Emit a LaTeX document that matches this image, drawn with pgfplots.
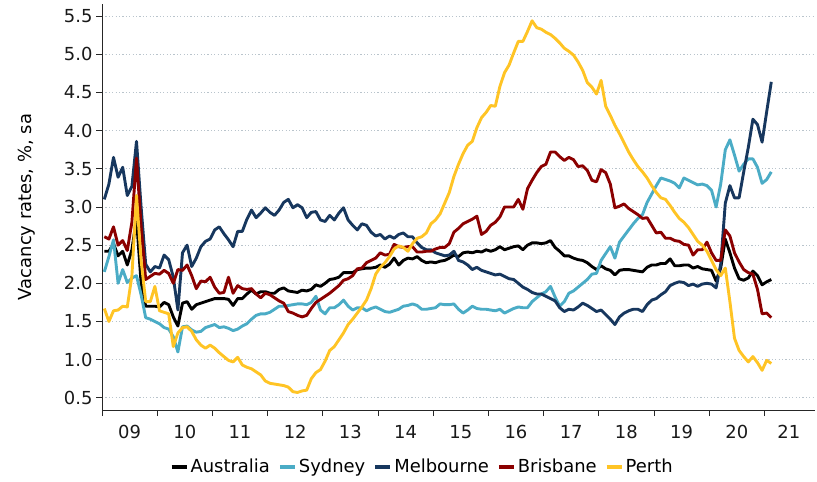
\documentclass[border=0pt]{standalone}
\usepackage{pgfplots}
\pgfplotsset{compat=1.18}
\usepackage{pgfplotstable}
\usepackage{fontspec}
\setmainfont{DejaVu Sans}
\definecolor{cAus}{RGB}{0,0,0}
\definecolor{cSyd}{RGB}{75,172,198}
\definecolor{cMel}{RGB}{23,55,94}
\definecolor{cBri}{RGB}{139,0,0}
\definecolor{cPer}{RGB}{255,196,37}
\definecolor{cGrid}{RGB}{185,196,204}
\pgfplotstableread{
m aus syd mel bri per
0 2.42 2.15 3.10 2.61 1.67
1 2.42 2.35 3.30 2.58 1.50
2 2.52 2.57 3.65 2.74 1.64
3 2.36 2.00 3.39 2.50 1.65
4 2.42 2.18 3.52 2.56 1.70
5 2.24 2.01 3.15 2.43 1.69
6 2.44 2.07 3.27 2.80 2.10
7 2.85 2.10 3.86 3.64 3.15
8 2.00 1.85 3.00 2.75 2.30
9 1.70 1.55 2.25 2.05 1.76
10 1.70 1.53 2.15 2.09 1.76
11 1.70 1.50 2.22 2.13 1.96
12 1.69 1.47 2.20 2.12 1.64
13 1.75 1.42 2.37 2.17 1.62
14 1.72 1.40 2.31 2.13 1.60
15 1.56 1.30 2.08 2.00 1.17
16 1.44 1.10 1.65 2.18 1.35
17 1.74 1.43 2.40 2.17 1.42
18 1.76 1.44 2.50 2.24 1.43
19 1.66 1.39 2.22 2.10 1.37
20 1.72 1.36 2.33 1.93 1.26
21 1.74 1.37 2.48 2.03 1.19
22 1.76 1.42 2.55 2.02 1.15
23 1.78 1.44 2.58 2.08 1.19
24 1.80 1.46 2.70 1.95 1.15
25 1.80 1.42 2.74 1.87 1.09
26 1.80 1.43 2.65 1.88 1.04
27 1.79 1.41 2.57 2.08 0.99
28 1.71 1.38 2.48 1.87 0.97
29 1.80 1.40 2.68 1.97 1.03
30 1.80 1.44 2.68 1.93 0.93
31 1.86 1.47 2.84 1.92 0.90
32 1.91 1.53 2.96 1.93 0.88
33 1.86 1.58 2.86 1.86 0.84
34 1.89 1.60 2.92 1.81 0.80
35 1.89 1.60 2.99 1.87 0.72
36 1.87 1.62 2.93 1.85 0.69
37 1.87 1.66 2.89 1.81 0.68
38 1.92 1.70 2.96 1.77 0.67
39 1.94 1.70 3.06 1.74 0.66
40 1.90 1.71 3.10 1.63 0.64
41 1.89 1.72 2.99 1.61 0.58
42 1.88 1.73 3.03 1.58 0.57
43 1.91 1.73 2.99 1.56 0.59
44 1.90 1.72 2.86 1.58 0.60
45 1.92 1.75 2.93 1.67 0.75
46 1.98 1.83 2.94 1.75 0.83
47 1.96 1.65 2.83 1.79 0.87
48 2.00 1.60 2.81 1.83 0.98
49 2.05 1.68 2.89 1.87 1.12
50 2.06 1.68 2.83 1.92 1.17
51 2.08 1.72 2.92 1.97 1.26
52 2.14 1.78 2.99 2.04 1.35
53 2.14 1.70 2.83 2.06 1.46
54 2.14 1.65 2.76 2.10 1.53
55 2.18 1.68 2.70 2.19 1.61
56 2.19 1.68 2.78 2.20 1.69
57 2.20 1.64 2.76 2.27 1.78
58 2.20 1.67 2.67 2.30 1.93
59 2.21 1.69 2.62 2.33 2.12
60 2.24 1.66 2.64 2.40 2.21
61 2.21 1.63 2.58 2.37 2.27
62 2.25 1.62 2.62 2.38 2.35
63 2.33 1.64 2.59 2.51 2.45
64 2.24 1.66 2.64 2.48 2.49
65 2.30 1.70 2.66 2.47 2.47
66 2.33 1.71 2.61 2.48 2.42
67 2.32 1.73 2.61 2.48 2.52
68 2.35 1.71 2.53 2.41 2.59
69 2.30 1.66 2.47 2.41 2.61
70 2.27 1.66 2.44 2.42 2.66
71 2.28 1.67 2.44 2.42 2.78
72 2.27 1.68 2.40 2.45 2.83
73 2.29 1.73 2.38 2.47 2.91
74 2.30 1.72 2.36 2.47 3.05
75 2.33 1.72 2.37 2.52 3.19
76 2.37 1.73 2.42 2.67 3.40
77 2.35 1.66 2.30 2.72 3.56
78 2.40 1.61 2.28 2.78 3.70
79 2.41 1.65 2.24 2.81 3.81
80 2.40 1.70 2.18 2.84 3.86
81 2.42 1.67 2.21 2.88 4.04
82 2.41 1.66 2.17 2.64 4.17
83 2.44 1.66 2.15 2.68 4.24
84 2.42 1.65 2.13 2.76 4.33
85 2.44 1.64 2.11 2.80 4.32
86 2.48 1.66 2.12 2.87 4.58
87 2.44 1.61 2.09 3.00 4.76
88 2.46 1.64 2.06 3.00 4.86
89 2.48 1.67 2.05 3.00 5.02
90 2.49 1.69 2.00 3.10 5.17
91 2.44 1.68 1.95 2.97 5.17
92 2.50 1.68 1.92 3.24 5.30
93 2.53 1.76 1.88 3.35 5.44
94 2.53 1.81 1.86 3.45 5.35
95 2.52 1.86 1.86 3.53 5.33
96 2.53 1.89 1.83 3.56 5.29
97 2.56 1.96 1.80 3.72 5.26
98 2.47 1.82 1.77 3.72 5.21
99 2.42 1.70 1.68 3.66 5.15
100 2.36 1.76 1.63 3.61 5.08
101 2.36 1.87 1.66 3.65 5.04
102 2.33 1.90 1.65 3.62 4.99
103 2.31 1.95 1.69 3.53 4.90
104 2.30 2.00 1.74 3.54 4.79
105 2.27 2.05 1.71 3.48 4.63
106 2.22 2.12 1.67 3.35 4.57
107 2.18 2.13 1.63 3.33 4.48
108 2.23 2.30 1.65 3.49 4.66
109 2.19 2.39 1.59 3.45 4.32
110 2.17 2.48 1.53 3.30 4.20
111 2.11 2.33 1.46 2.99 4.07
112 2.17 2.54 1.56 3.01 3.96
113 2.18 2.62 1.61 3.04 3.84
114 2.18 2.70 1.64 2.98 3.72
115 2.17 2.78 1.66 2.94 3.62
116 2.16 2.85 1.66 2.90 3.53
117 2.15 2.90 1.63 2.85 3.46
118 2.21 3.06 1.72 2.86 3.38
119 2.24 3.17 1.78 2.76 3.28
120 2.24 3.28 1.80 2.66 3.19
121 2.26 3.38 1.85 2.67 3.12
122 2.26 3.36 1.89 2.59 3.10
123 2.32 3.34 1.97 2.59 3.02
124 2.23 3.31 2.00 2.56 2.93
125 2.23 3.25 2.02 2.55 2.85
126 2.24 3.38 2.01 2.51 2.80
127 2.24 3.35 1.97 2.50 2.73
128 2.20 3.32 1.99 2.37 2.64
129 2.22 3.29 1.96 2.44 2.55
130 2.19 3.30 1.99 2.44 2.50
131 2.18 3.28 2.00 2.54 2.42
132 2.17 3.22 1.99 2.40 2.30
133 2.03 3.00 1.94 2.30 2.18
134 2.20 3.30 2.25 2.30 2.10
135 2.58 3.75 3.05 2.70 2.20
136 2.40 3.88 3.28 2.62 1.76
137 2.20 3.68 3.12 2.40 1.28
138 2.06 3.47 3.12 2.28 1.12
139 2.04 3.56 3.46 2.18 1.04
140 2.07 3.63 3.78 2.14 0.97
141 2.16 3.63 4.15 2.12 1.04
142 2.10 3.52 4.08 1.92 0.96
143 1.98 3.31 3.85 1.60 0.86
144 2.02 3.36 4.25 1.61 0.99
145 2.05 3.46 4.64 1.55 0.95
}\datatable
\begin{document}
\begin{tikzpicture}
\path[use as bounding box] (0,0) rectangle (817bp,482bp);
\begin{axis}[
  at={(102bp,72bp)}, anchor=south west,
  scale only axis, width=713bp, height=406bp,
  xmin=-0.5, xmax=154.5, ymin=0.34, ymax=5.66,
  axis x line*=bottom, axis y line*=left,
  axis line style={line width=0.9bp, color=black!85},
  every tick label/.append style={font=\fontsize{18}{21}\selectfont, text=black!90},
  ytick={0.5,1.0,1.5,2.0,2.5,3.0,3.5,4.0,4.5,5.0,5.5},
  yticklabel style={/pgf/number format/.cd, fixed, fixed zerofill, precision=1, assume math mode=true},
  ymajorgrids,
  y grid style={line width=0.8bp, color=cGrid, dash pattern=on 1.2bp off 2.2bp},
  xtick={-0.5,11.5,23.5,35.5,47.5,59.5,71.5,83.5,95.5,107.5,119.5,131.5,143.5},
  xticklabels={},
  extra x ticks={5.5,17.5,29.5,41.5,53.5,65.5,77.5,89.5,101.5,113.5,125.5,137.5,148.8},
  extra x tick labels={09,10,11,12,13,14,15,16,17,18,19,20,21},
  extra x tick style={major tick length=0pt, xticklabel style={yshift=-12bp}},
  tick align=outside,
  tick style={line width=0.9bp, color=black!85},
  major tick length=6bp,
  ylabel={Vacancy rates, \%, sa},
  ylabel style={at={(axis description cs:-0.105,0.5)}, anchor=center, font=\fontsize{18}{21}\selectfont},
  legend columns=5,
  legend style={at={(axis description cs:0.449,-0.140)}, anchor=center, draw=none, fill=none,
    font=\fontsize{18}{21}\selectfont, inner sep=0pt,
    /tikz/every even column/.append style={column sep=6bp},
    /tikz/every odd column/.append style={column sep=0bp}},
  legend image code/.code={\draw[line width=4bp] (0bp,0bp) -- (15bp,0bp);},
  every axis plot/.append style={line width=2.9bp, line join=round},
]
\addplot[color=cAus] table[x=m, y=aus] {\datatable};
\addlegendentry{Australia}
\addplot[color=cSyd] table[x=m, y=syd] {\datatable};
\addlegendentry{Sydney}
\addplot[color=cMel] table[x=m, y=mel] {\datatable};
\addlegendentry{Melbourne}
\addplot[color=cBri] table[x=m, y=bri] {\datatable};
\addlegendentry{Brisbane}
\addplot[color=cPer] table[x=m, y=per] {\datatable};
\addlegendentry{Perth}
\end{axis}
\end{tikzpicture}
\end{document}
